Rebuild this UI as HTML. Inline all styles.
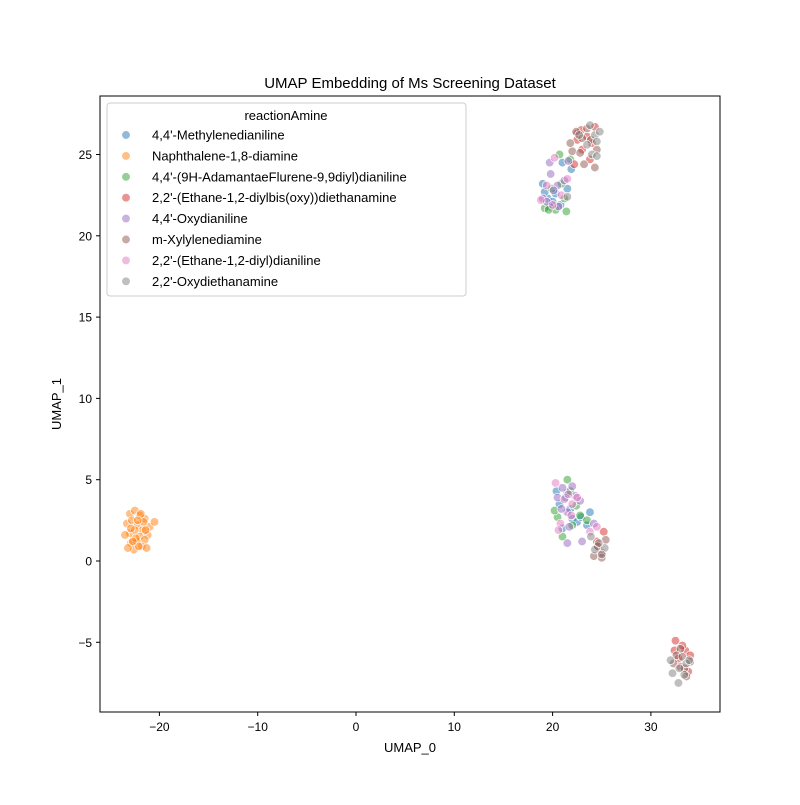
<!DOCTYPE html>
<html><head><meta charset="utf-8"><style>
body{margin:0;background:#fff}
svg text{font-family:"Liberation Sans","DejaVu Sans",sans-serif}
</style></head><body>
<svg id="chart" width="800" height="800" viewBox="0 0 800 800">
<rect width="800" height="800" fill="#fff"/>
<text x="410" y="88" text-anchor="middle" font-size="15">UMAP Embedding of Ms Screening Dataset</text>
<g id="points"></g>
<rect x="100" y="96" width="620" height="616" fill="none" stroke="#000" stroke-width="1"/>
<g id="axes"></g>
<text x="410" y="752" text-anchor="middle" font-size="13">UMAP_0</text>
<text x="61" y="404" text-anchor="middle" font-size="13" transform="rotate(-90 61 404)">UMAP_1</text>
<g id="legend"></g>
</svg>
<script>
const seriesNames=["4,4'-Methylenedianiline","Naphthalene-1,8-diamine","4,4'-(9H-AdamantaeFlurene-9,9diyl)dianiline","2,2'-(Ethane-1,2-diylbis(oxy))diethanamine","4,4'-Oxydianiline","m-Xylylenediamine","2,2'-(Ethane-1,2-diyl)dianiline","2,2'-Oxydiethanamine"];
const colors=["#1f77b4","#ff7f0e","#2ca02c","#d62728","#9467bd","#8c564b","#e377c2","#7f7f7f"];
const xTicks=[-20,-10,0,10,20,30];
const yTicks=[-5,0,5,10,15,20,25];
const s0x=[19,19.5,20.3,21,20.8,21.5,19.2,21,22,23.8,20.7,21.5,22.5,23.5,21.8,20,21.9,19.7,22.9,20.4,21.3];
const s0y=[23.2,22.3,22.6,24.5,21.9,22.9,22.7,2,2.6,3,3.5,4.2,2.4,2.2,3.2,22.1,24.1,21.8,2.7,4.3,3.9];
const s1x=[-23,-22.5,-22,-21.5,-21,-20.5,-23.3,-22.8,-22.2,-21.7,-21.2,-23,-22.5,-22,-21.5,-23.5,-22.9,-22.3,-21.8,-21.3,-22.6,-22.1,-21.6,-22.9,-22.4,-21.9,-23.2,-22.7,-22.2,-21.4];
const s1y=[2.9,3.1,2.8,2.6,2.1,2.4,2.3,2.5,2.2,1.9,1.6,1.7,1.9,1.5,1.3,1.6,1.1,1.2,0.9,0.8,0.7,0.9,2.4,2.0,1.4,2.9,0.8,1.2,2.5,1.9];
const s2x=[19.2,20.7,21.8,20.3,21.2,19.6,21.5,21.8,20.5,22.8,21,23.5,22,20.9,19.9,21.4,22.4,20.2];
const s2y=[21.7,25,24.7,21.6,22.3,21.6,5,4.3,2.7,2.8,1.5,2.5,2.2,23.2,22.9,21.5,3.4,3.1];
const s3x=[22.5,23.5,24.3,23,22.2,24,22.5,25.2,24.5,25,32.5,33.5,33.8,32.8,33.2,34,23.8,22.9,24.6,33,32.4];
const s3y=[26.3,26.1,26.7,25.3,24.4,25.7,25.9,1.8,1.2,0.5,-4.9,-5.5,-6.8,-6,-5.2,-5.8,24.7,26.5,0.9,-6.5,-5.5];
const s4x=[19.7,20.5,19,20.1,21.6,19.8,21,22.3,20.5,21.5,23,24.2,21.5,22.8,20.6,21.2,19.4,20.9,22,21.7];
const s4y=[24.5,23.1,22.3,22.8,24.6,23.8,4.5,4,3.9,3,1.2,2.3,1.1,3.7,21.8,23.4,22.1,3.2,4.6,2.1];
const s5x=[22,23,24.3,23.2,23.5,24.5,22.8,21.8,24.6,25.4,24.2,32.3,33,33.4,34,32.6,33.6,23.9,22.4,25,33.2];
const s5y=[25.2,26,24.2,24.4,26.6,25.3,25.1,25.7,0.9,1.3,0.3,-6.3,-5.4,-6.6,-6.2,-5.8,-7.1,25.9,26.4,0.2,-5.9];
const s6x=[20.2,21.5,18.8,20,20.3,21.2,22,20.8,23.8,24.5,21.6,20.9,19.4,22.5,20.6,21.9];
const s6y=[24.8,23.5,22.2,21.9,4.8,3.8,3.5,2.3,1.8,2.1,4.1,22.5,23.1,3.9,1.9,2.8];
const s7x=[23.8,24.3,24.5,22.7,24,24.5,21.5,25.3,25,24.3,23.9,32.2,32.8,33.4,32,33.6,32.9,24.8,23.5,24.7,33.9];
const s7y=[26.8,26.2,25.8,26.2,25,24.9,22.4,0.8,0.4,0.7,1.5,-6.9,-7.5,-7,-6.1,-6.3,-6.6,26.4,25.6,1.1,-6.1];
const seriesX=[s0x,s1x,s2x,s3x,s4x,s5x,s6x,s7x];
const seriesY=[s0y,s1y,s2y,s3y,s4y,s5y,s6y,s7y];
const NS="http://www.w3.org/2000/svg";
function xs(v){return 356+v*9.83;}
function ys(v){return 561-v*16.26;}
const pts=document.getElementById('points');
for(let s=0;s<8;s++){
  for(let i=0;i<seriesX[s].length;i++){
    const c=document.createElementNS(NS,'circle');
    c.setAttribute('cx',xs(seriesX[s][i]));c.setAttribute('cy',ys(seriesY[s][i]));
    c.setAttribute('r',4.3);c.setAttribute('fill',colors[s]);c.setAttribute('fill-opacity',0.5);
    c.setAttribute('stroke','#fff');c.setAttribute('stroke-width',0.7);
    
    
    pts.appendChild(c);
  }
}
const ax=document.getElementById('axes');
xTicks.forEach(t=>{
  const x=xs(t);
  const l=document.createElementNS(NS,'line');
  l.setAttribute('x1',x);l.setAttribute('x2',x);l.setAttribute('y1',712);l.setAttribute('y2',716);l.setAttribute('stroke','#000');
  
  
  ax.appendChild(l);
  const tx=document.createElementNS(NS,'text');
  tx.setAttribute('x',x);tx.setAttribute('y',731);tx.setAttribute('text-anchor','middle');tx.setAttribute('font-size','12');
  tx.textContent=(t<0?'\u2212'+(-t):t);
  
  
  ax.appendChild(tx);
});
yTicks.forEach(t=>{
  const y=ys(t);
  const l=document.createElementNS(NS,'line');
  l.setAttribute('x1',96);l.setAttribute('x2',100);l.setAttribute('y1',y);l.setAttribute('y2',y);l.setAttribute('stroke','#000');
  
  
  ax.appendChild(l);
  const tx=document.createElementNS(NS,'text');
  tx.setAttribute('x',92);tx.setAttribute('y',y+4.5);tx.setAttribute('text-anchor','end');tx.setAttribute('font-size','12');
  tx.textContent=(t<0?'\u2212'+(-t):t);
  
  
  ax.appendChild(tx);
});
const lg=document.getElementById('legend');
const box=document.createElementNS(NS,'rect');
box.setAttribute('x',107);box.setAttribute('y',103);box.setAttribute('width',359);box.setAttribute('height',193);box.setAttribute('rx',3);
box.setAttribute('fill','#fff');box.setAttribute('fill-opacity',0.8);box.setAttribute('stroke','#ccc');


lg.appendChild(box);
const lt=document.createElementNS(NS,'text');
lt.setAttribute('x',286);lt.setAttribute('y',120);lt.setAttribute('text-anchor','middle');lt.setAttribute('font-size','13');
lt.textContent='reactionAmine';


lg.appendChild(lt);
seriesNames.forEach((n,i)=>{
  const y=135+i*20.9;
  const c=document.createElementNS(NS,'circle');
  c.setAttribute('cx',126);c.setAttribute('cy',y);c.setAttribute('r',4.3);c.setAttribute('fill',colors[i]);c.setAttribute('fill-opacity',0.5);
  c.setAttribute('stroke','#fff');c.setAttribute('stroke-width',0.7);
  
  
  lg.appendChild(c);
  const t=document.createElementNS(NS,'text');
  t.setAttribute('x',152);t.setAttribute('y',y+4.5);t.setAttribute('font-size','13');t.textContent=n;
  
  
  lg.appendChild(t);
});
</script>
</body></html>
